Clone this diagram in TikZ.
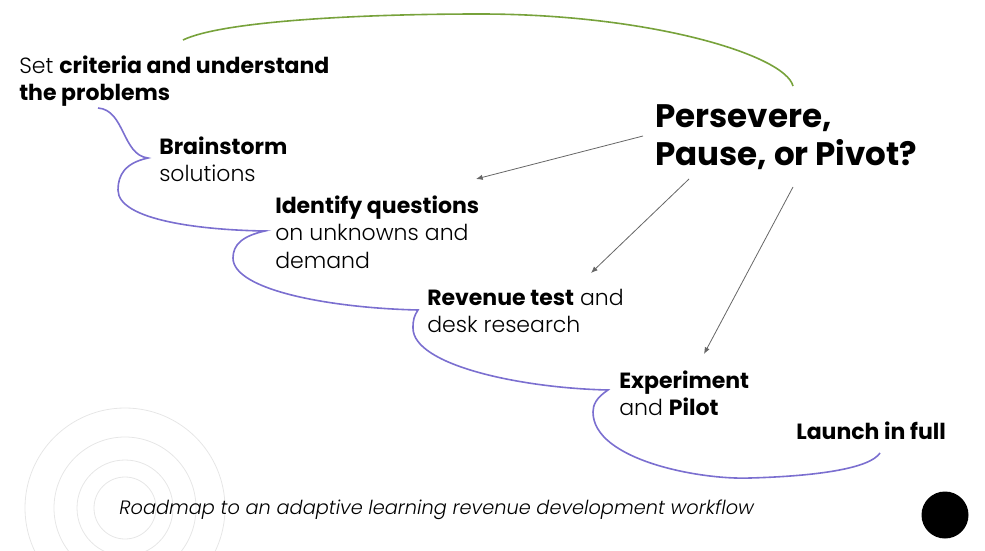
\documentclass[tikz,border=0pt]{standalone}
\usepackage{fontspec}
\setmainfont{Poppins}[UprightFont=* Light, BoldFont=* Bold, ItalicFont=* Light Italic]
\usetikzlibrary{positioning,arrows.meta}
\definecolor{roadpurple}{HTML}{7B6FD0}
\definecolor{loopgreen}{HTML}{77A23B}
\definecolor{ringgray}{HTML}{E6E6E6}
\definecolor{arrowgray}{HTML}{666666}
\tikzset{
	stage/.style={anchor=north west, inner sep=0pt, align=left, font=\fontsize{16.5}{20.3}\selectfont},
	question/.style={anchor=north west, inner sep=0pt, align=left, font=\fontsize{24.4}{29}\selectfont\bfseries},
	caption/.style={anchor=north west, inner sep=0pt, font=\fontsize{14.5}{17}\selectfont\itshape},
	road/.style={roadpurple, line width=1.2pt},
	loop/.style={loopgreen, line width=1.2pt},
	ring/.style={ringgray, line width=0.6pt},
	decide/.style={arrowgray, line width=0.6pt, -{Latex[length=5pt, width=4pt]}},
}

\begin{document}
\begin{tikzpicture}[x=0.75pt, y=-0.75pt]
		\useasboundingbox (0,0) rectangle (985,550);
		\foreach \r in {31,48,71,100}
			\draw[ring] (125,508) circle (\r*0.75pt);
		\fill (945,515) circle (23.5*0.75pt);
		\node[stage] (criteria) at (19,56) {Set \textbf{criteria and understand}\\\textbf{the problems}};
		\node[stage] (brainstorm) at (159,137) {\textbf{Brainstorm}\\solutions};
		\node[stage] (questions) at (275,196) {\textbf{Identify questions}\\on unknowns and\\demand};
		\node[stage] (revenue) at (427,289) {\textbf{Revenue test} and\\desk research};
		\node[stage] (experiment) at (619,371) {\textbf{Experiment}\\and \textbf{Pilot}};
		\node[stage] (launch) at (796,422) {\textbf{Launch in full}};
		\node[question] (pivot) at (655,104) {Persevere,\\Pause, or Pivot?};
		\node[caption] (caption) at (119,500) {Roadmap to an adaptive learning revenue development workflow};
		\coordinate (start) at (98,108);
		\coordinate (c1) at (148,158);
		\coordinate (c2) at (265,231);
		\coordinate (c3) at (418,310);
		\coordinate (c4) at (608,390);
		\coordinate (finish) at (880,453);
		\draw[road] (start) .. controls (125,110) and (122,155) .. (c1)
			.. controls (125,163) and (118,175) .. (118,190)
			.. controls (118,220) and (200,230) .. (c2)
			.. controls (242,236) and (233,245) .. (233,258)
			.. controls (233,290) and (330,308) .. (c3)
			.. controls (414,316) and (413,320) .. (413,328)
			.. controls (413,365) and (520,388) .. (c4)
			.. controls (596,398) and (593,405) .. (593,412)
			.. controls (593,460) and (700,480) .. (750,478)
			.. controls (820,476) and (870,468) .. (finish);
		\coordinate (back) at (183,40);
		\coordinate (again) at (793,86);
		\draw[loop] (back) .. controls (220,22) and (350,14) .. (480,14)
			.. controls (650,14) and (785,55) .. (again);
		\coordinate (toquestions) at (476,179);
		\coordinate (torevenue) at (591,273);
		\coordinate (toexperiment) at (704,354);
		\draw[decide] (643,136) -- (toquestions);
		\draw[decide] (689,179) -- (torevenue);
		\draw[decide] (793,187) -- (toexperiment);
\end{tikzpicture}
\end{document}
